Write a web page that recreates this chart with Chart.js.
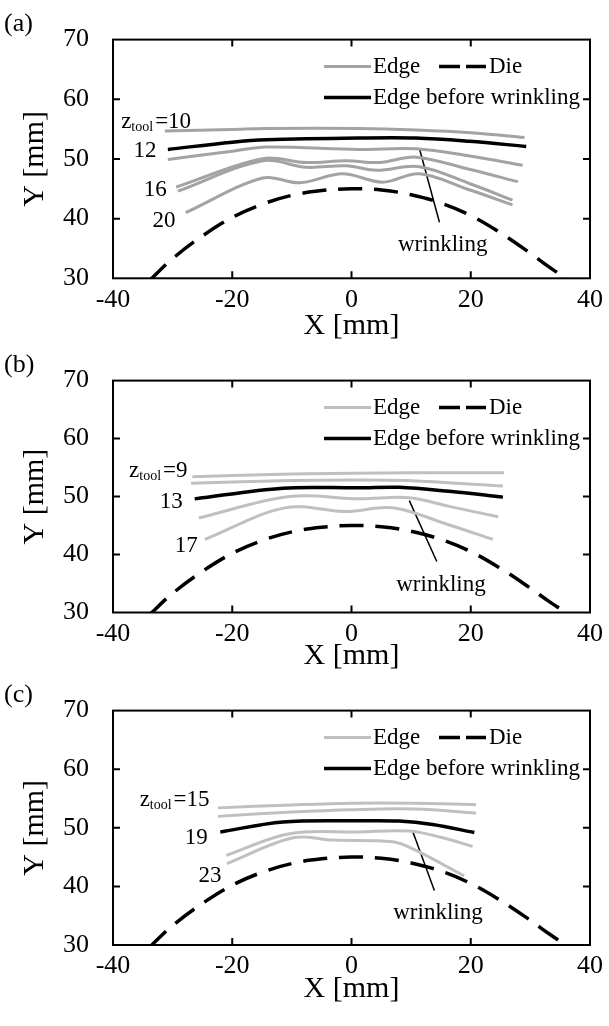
<!DOCTYPE html>
<html>
<head>
<meta charset="utf-8">
<script src="https://cdn.jsdelivr.net/npm/chart.js"></script>
<style>
  body { margin:0; background:#fff; width:609px; height:1026px; position:relative; overflow:hidden; }
  canvas { position:absolute; left:0; }
</style>
</head>
<body>
<canvas id="ca" width="609" height="341" style="top:0"></canvas>
<canvas id="cb" width="609" height="330" style="top:341px"></canvas>
<canvas id="cc" width="609" height="333" style="top:671px"></canvas>
<script>
const SERIF = "'Liberation Serif', 'Times New Roman', serif";

// die profile (same die in every panel)
const dieX = [-34, -30, -25, -20, -15, -10, -5, 0, 5, 10, 15, 20, 25, 30, 33, 36.5];
const dieY = [29.5, 33.3, 37.1, 40.2, 42.4, 43.9, 44.7, 45.0, 44.8, 44.0, 42.6, 40.5, 37.6, 34.2, 32.0, 29.6];

// (a) edge profiles, z_tool = 10 ... 20
const aX10 = [-31.3, -20, -14.3, 1.3, 10.9, 20, 29.0];
const aY10 = [54.7, 54.95, 55.1, 55.1, 54.85, 54.4, 53.6];
const aX12 = [-30.8, -20, -14.3, 1.3, 10.8, 19.8, 29.3];
const aY12 = [51.6, 52.8, 53.2, 53.5, 53.5, 52.95, 52.1];
const aX14 = [-30.8, -20, -14.3, 1.3, 10.8, 19.8, 28.7];
const aY14 = [49.9, 51.3, 52.0, 51.6, 51.7, 50.5, 48.95];
const aX16 = [-29.4, -14.9, -7.6, -0.9, 4.7, 10.8, 19.2, 27.9];
const aY16 = [45.3, 50.05, 49.4, 49.7, 49.4, 50.3, 48.4, 46.2];
const aX18 = [-29.1, -14.9, -7.6, -0.9, 4.2, 11.4, 20, 27.0];
const aY18 = [44.6, 49.7, 48.6, 48.85, 48.1, 48.7, 45.8, 43.1];
const aX20 = [-27.8, -14.9, -8.7, -1.5, 5.2, 11.4, 20, 27.0];
const aY20 = [41.0, 46.8, 46.0, 47.5, 46.1, 47.5, 44.75, 42.3];
const aPointX = [11.4, 14.75], aPointY = [51.7, 39.4];
const aNotes = ['10', '12', '16', '20'];
const aNoteX = [-26.9, -32.7, -31.0, -29.5];
const aNoteY = [56.2, 51.3, 44.75, 39.55];
const aWrinkle = [15.3, 35.6];

// (b) edge profiles, z_tool = 9 ... 17
const bX9 = [-26.7, -10, 0, 10, 25.6];
const bY9 = [53.4, 53.9, 54.0, 54.1, 54.1];
const bX11 = [-26.9, -10, 1.3, 10.9, 25.4];
const bY11 = [52.3, 52.75, 52.85, 52.7, 51.8];
const bX13 = [-26.3, -11.5, 1.3, 8.0, 16.4, 25.4];
const bY13 = [49.6, 51.45, 51.5, 51.6, 50.9, 49.9];
const bX15 = [-25.6, -10.4, 1.3, 9.7, 16.4, 24.6];
const bY15 = [46.3, 50.0, 49.6, 49.8, 48.3, 46.5];
const bX17 = [-24.6, -11.2, -0.9, 6.9, 16.4, 23.7];
const bY17 = [42.6, 48.05, 47.4, 48.05, 45.1, 42.6];
const bPointX = [9.7, 14.3], bPointY = [49.3, 38.8];
const bNotes = ['9', '13', '17'];
const bNoteX = [-27.5, -28.3, -25.8];
const bNoteY = [54.4, 49.1, 41.5];
const bWrinkle = [15.0, 34.8];

// (c) edge profiles, z_tool = 15 ... 23
const cX15 = [-22.4, -10, 0, 10, 20.9];
const cY15 = [53.4, 53.9, 54.2, 54.2, 53.95];
const cX17 = [-22.4, -10, 0, 10.8, 20.9];
const cY17 = [51.95, 52.7, 53.1, 53.2, 52.5];
const cX19 = [-22.0, -11.5, 1.3, 8.0, 13.6, 20.6];
const cY19 = [49.3, 51.0, 51.2, 51.15, 50.55, 49.2];
const cX21 = [-21.0, -10.4, 1.3, 9.7, 15.3, 20.3];
const cY21 = [45.3, 49.0, 49.3, 49.45, 48.3, 46.8];
const cX23 = [-20.9, -9.8, -3.1, 6.9, 10.3, 18.9];
const cY23 = [43.9, 48.3, 47.9, 47.6, 46.4, 41.8];
const cPointX = [10.3, 13.9], cPointY = [49.3, 39.3];
const cNotes = ['15', '19', '23'];
const cNoteX = [-23.8, -24.1, -21.8];
const cNoteY = [54.7, 48.2, 41.8];
const cWrinkle = [14.5, 35.45];

const xTicks = [-40, -20, 0, 20, 40];
const yTicks = [30, 40, 50, 60, 70];

const pts = (xs, ys) => xs.map((v, i) => ({x: v, y: ys[i]}));

function edge(xs, ys, color){
  return { label:'Edge', data:pts(xs, ys), borderColor:color, borderWidth:3, tension:0.35 };
}
function before(xs, ys){
  return { label:'Edge before wrinkling', data:pts(xs, ys), borderColor:'#000', borderWidth:3.5, tension:0.35 };
}
function die(){
  return { label:'Die', data:pts(dieX, dieY), borderColor:'#000', borderWidth:3.5, borderDash:[24, 12], tension:0.4 };
}
function pointer(xs, ys){
  return { label:'', data:pts(xs, ys), borderColor:'#000', borderWidth:1.5, tension:0 };
}

// box around the plot with inward tick marks on all four sides
const framePlugin = {
  id:'frame',
  afterDraw(chart){
    const {ctx, chartArea:a, scales:{x, y}} = chart;
    ctx.save();
    ctx.strokeStyle = '#000';
    ctx.lineWidth = 2;
    ctx.strokeRect(a.left, a.top, a.right - a.left, a.bottom - a.top);
    ctx.beginPath();
    x.ticks.forEach(t => {
      if (t.value <= x.min || t.value >= x.max) return;
      const px = x.getPixelForValue(t.value);
      ctx.moveTo(px, a.bottom); ctx.lineTo(px, a.bottom - 7);
      ctx.moveTo(px, a.top); ctx.lineTo(px, a.top + 7);
    });
    y.ticks.forEach(t => {
      if (t.value <= y.min || t.value >= y.max) return;
      const py = y.getPixelForValue(t.value);
      ctx.moveTo(a.left, py); ctx.lineTo(a.left + 7, py);
      ctx.moveTo(a.right, py); ctx.lineTo(a.right - 7, py);
    });
    ctx.stroke();
    ctx.restore();
  }
};

// panel tag, z_tool labels, "wrinkling" note and the legend
const notesPlugin = {
  id:'notes',
  afterDatasetsDraw(chart, args, o){
    const {ctx, chartArea:a, scales:{x, y}} = chart;
    ctx.save();
    ctx.fillStyle = '#000';
    ctx.textBaseline = 'middle';

    ctx.font = '26px ' + SERIF;
    ctx.textAlign = 'left';
    ctx.fillText(o.tag, 4, a.top - 15);

    ctx.font = '23px ' + SERIF;
    ctx.textAlign = 'right';
    o.notes.forEach((t, i) => {
      const px = x.getPixelForValue(o.noteX[i]);
      const py = y.getPixelForValue(o.noteY[i]);
      if (i > 0) { ctx.fillText(t, px, py); return; }
      const eq = '=' + t;
      ctx.font = '23px ' + SERIF;
      const wEq = ctx.measureText(eq).width;
      ctx.fillText(eq, px, py);
      ctx.font = '14px ' + SERIF;
      const wSub = ctx.measureText('tool').width;
      ctx.fillText('tool', px - wEq - 2, py + 5);
      ctx.font = '23px ' + SERIF;
      ctx.fillText('z', px - wEq - wSub - 2, py);
    });

    ctx.textAlign = 'center';
    ctx.fillText('wrinkling', x.getPixelForValue(o.wrinkle[0]), y.getPixelForValue(o.wrinkle[1]));

    // legend
    const ds = chart.data.datasets;
    const find = l => ds.find(d => d.label === l);
    const row1 = a.top + 27, row2 = a.top + 58;
    const sx = a.left + 211;
    const sample = (d, x0, yy, dash) => {
      ctx.beginPath();
      ctx.strokeStyle = d.borderColor;
      ctx.lineWidth = d.borderWidth;
      ctx.setLineDash(dash);
      ctx.moveTo(x0, yy); ctx.lineTo(x0 + 47, yy);
      ctx.stroke();
      ctx.setLineDash([]);
    };
    ctx.textAlign = 'left';
    ctx.font = '23px ' + SERIF;
    sample(find('Edge'), sx, row1, []);
    ctx.fillText('Edge', sx + 49, row1);
    sample(find('Die'), sx + 115, row1, [21, 6]);
    ctx.fillText('Die', sx + 165, row1);
    sample(find('Edge before wrinkling'), sx, row2, []);
    ctx.fillText('Edge before wrinkling', sx + 49, row2);
    ctx.restore();
  }
};

function makePanel(id, datasets, notes, layout){
  new Chart(document.getElementById(id), {
    type:'scatter',
    data:{ datasets },
    options:{
      responsive:false,
      animation:false,
      showLine:true,
      elements:{ point:{ radius:0 } },
      layout:{ padding:{ top:layout.top, left:0, right:19, bottom:0 } },
      plugins:{ legend:{ display:false }, tooltip:{ enabled:false }, notes },
      scales:{
        x:{
          type:'linear', min:-40, max:40,
          afterBuildTicks: s => { s.ticks = xTicks.map(v => ({value:v})); },
          afterFit: s => { s.height = layout.xh; },
          grid:{ display:false, drawTicks:false }, border:{ display:false },
          ticks:{ color:'#000', padding:6, font:{ family:SERIF, size:26 } },
          title:{ display:true, text:'X [mm]', color:'#000', padding:0, font:{ family:SERIF, size:30, lineHeight:1 } }
        },
        y:{
          type:'linear', min:30, max:70,
          afterBuildTicks: s => { s.ticks = yTicks.map(v => ({value:v})); },
          afterFit: s => { s.width = 113; },
          grid:{ display:false, drawTicks:false }, border:{ display:false },
          ticks:{ color:'#000', padding:24, font:{ family:SERIF, size:26 } },
          title:{ display:true, text:'Y [mm]', color:'#000', padding:{ top:20, bottom:0 }, font:{ family:SERIF, size:30, lineHeight:1 } }
        }
      }
    },
    plugins:[framePlugin, notesPlugin]
  });
}

const grayA = '#a3a3a3', grayBC = '#c0c0c0';

makePanel('ca', [
  edge(aX10, aY10, grayA), edge(aX14, aY14, grayA), edge(aX16, aY16, grayA),
  edge(aX18, aY18, grayA), edge(aX20, aY20, grayA),
  before(aX12, aY12), die(), pointer(aPointX, aPointY)
], { tag:'(a)', notes:aNotes, noteX:aNoteX, noteY:aNoteY, wrinkle:aWrinkle }, { top:35.5, xh:62.7 });

makePanel('cb', [
  edge(bX9, bY9, grayBC), edge(bX11, bY11, grayBC), edge(bX15, bY15, grayBC), edge(bX17, bY17, grayBC),
  before(bX13, bY13), die(), pointer(bPointX, bPointY)
], { tag:'(b)', notes:bNotes, noteX:bNoteX, noteY:bNoteY, wrinkle:bWrinkle }, { top:30, xh:58.5 });

makePanel('cc', [
  edge(cX15, cY15, grayBC), edge(cX17, cY17, grayBC), edge(cX21, cY21, grayBC), edge(cX23, cY23, grayBC),
  before(cX19, cY19), die(), pointer(cPointX, cPointY)
], { tag:'(c)', notes:cNotes, noteX:cNoteX, noteY:cNoteY, wrinkle:cWrinkle }, { top:34, xh:59 });
</script>
</body>
</html>
